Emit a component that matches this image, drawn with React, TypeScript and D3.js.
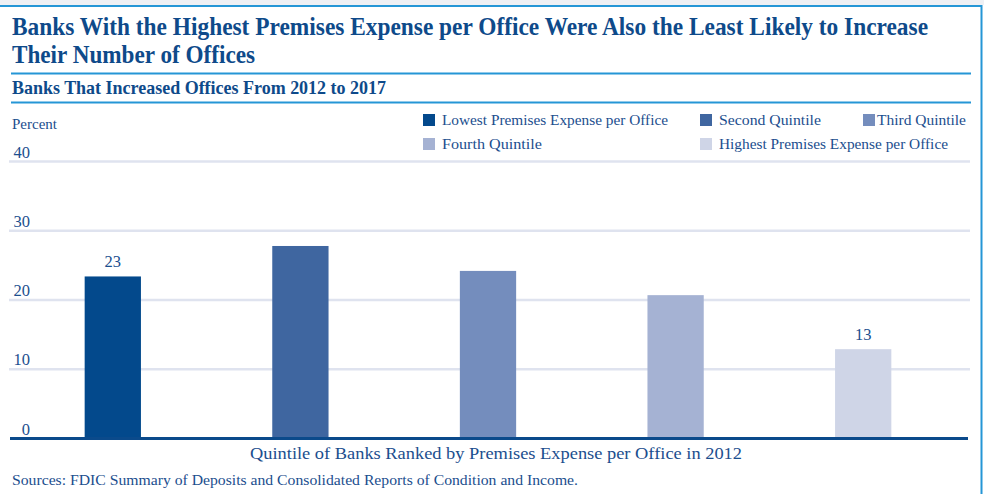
import React from "react";
import * as d3 from "d3";

const categories = [
  "Lowest Premises Expense per Office",
  "Second Quintile",
  "Third Quintile",
  "Fourth Quintile",
  "Highest Premises Expense per Office",
];
const values = [23.4, 27.8, 24.2, 20.7, 12.9];
const barLabels = ["23", "", "", "", "13"];
const colors = ["#03498c", "#3f66a0", "#748dbd", "#a5b2d3", "#cfd5e7"];
const yTicks = [0, 10, 20, 30, 40];
const legendWidths = [226, 102, 89, 100, 229];
const legendPos = [
  [423, 114, 442],
  [700, 114, 719],
  [863, 114, 877],
  [423, 138, 442],
  [700, 138, 719],
];

const W = 984;
const H = 494;
const TXT = "#1b4e8e";
const TITLE = "#0e4a8a";
const RULE = "#2596d6";
const SERIF = '"Liberation Serif", "DejaVu Serif", "Times New Roman", Times, serif';
const fs = { fontFamily: SERIF };
const SX = 0.85;

export default function App() {
  const x = d3
    .scaleBand<string>()
    .domain(categories)
    .range([19, 957])
    .paddingInner(0.7)
    .paddingOuter(0.35);
  const y = d3.scaleLinear().domain([0, 40]).range([438.5, 161.5]);

  return (
    <svg
      width={W}
      height={H}
      viewBox={`0 0 ${W} ${H}`}
      style={{ position: "absolute", left: 0, top: 0, display: "block", background: "#fff", fontFamily: SERIF }}
    >
      <rect x={0} y={0} width={W} height={5} fill="#eef0f4" />
      <line x1={0} x2={982} y1={6} y2={6} stroke={RULE} strokeWidth={2.2} />
      <line x1={981.5} x2={981.5} y1={5} y2={H} stroke={RULE} strokeWidth={2} />

      <g transform={`translate(12,35) scale(${SX},1)`}>
        <text style={fs} x={0} y={0} fontSize={25.5} fontWeight="bold" fill={TITLE} textLength={916 / SX} lengthAdjust="spacingAndGlyphs">
          Banks With the Highest Premises Expense per Office Were Also the Least Likely to Increase
        </text>
      </g>
      <g transform={`translate(12,63) scale(${SX},1)`}>
        <text style={fs} x={0} y={0} fontSize={25.5} fontWeight="bold" fill={TITLE} textLength={243 / SX} lengthAdjust="spacingAndGlyphs">
          Their Number of Offices
        </text>
      </g>
      <line x1={11} x2={971} y1={73.5} y2={73.5} stroke={RULE} strokeWidth={1.8} />
      <g transform={`translate(12,94) scale(${SX},1)`}>
        <text style={fs} x={0} y={0} fontSize={18} fontWeight="bold" fill={TITLE} textLength={374 / SX} lengthAdjust="spacingAndGlyphs">
          Banks That Increased Offices From 2012 to 2017
        </text>
      </g>
      <line x1={11} x2={971} y1={102.5} y2={102.5} stroke={RULE} strokeWidth={1.8} />

      <text style={fs} x={12} y={129} fontSize={15} fill={TXT}>Percent</text>

      {categories.map((c, i) => (
        <g key={"lg" + i}>
          <rect x={legendPos[i][0]} y={legendPos[i][1]} width={12} height={12} fill={colors[i]} />
          <text
            style={fs}
            x={legendPos[i][2]}
            y={legendPos[i][1] + 11}
            fontSize={15}
            fill={TXT}
            textLength={legendWidths[i]}
            lengthAdjust="spacingAndGlyphs"
          >
            {c}
          </text>
        </g>
      ))}

      {yTicks.filter((t) => t > 0).map((t) => (
        <line key={"g" + t} x1={9} x2={970} y1={y(t)} y2={y(t)} stroke="#dfe3ef" strokeWidth={2.4} />
      ))}
      {yTicks.map((t) => (
        <text style={fs} key={"t" + t} x={30} y={y(t) - 4} textAnchor="end" fontSize={16.5} fill={TXT}>
          {t}
        </text>
      ))}

      {categories.map((c, i) => (
        <rect
          key={"b" + i}
          x={x(c)}
          y={y(values[i])}
          width={x.bandwidth()}
          height={y(0) - y(values[i])}
          fill={colors[i]}
        />
      ))}
      {categories.map((c, i) =>
        barLabels[i] ? (
          <text
            style={fs}
            key={"l" + i}
            x={(x(c) as number) + x.bandwidth() / 2}
            y={y(values[i]) - 9.5}
            textAnchor="middle"
            fontSize={16.5}
            fill={TXT}
          >
            {barLabels[i]}
          </text>
        ) : null
      )}

      <line x1={10} x2={968} y1={y(0)} y2={y(0)} stroke="#0b4a8b" strokeWidth={3} />

      <text style={fs} x={250} y={459} fontSize={17} fill={TXT} textLength={492} lengthAdjust="spacingAndGlyphs">
        Quintile of Banks Ranked by Premises Expense per Office in 2012
      </text>
      <text style={fs} x={12} y={485} fontSize={14.5} fill={TXT} textLength={566} lengthAdjust="spacingAndGlyphs">
        Sources: FDIC Summary of Deposits and Consolidated Reports of Condition and Income.
      </text>
    </svg>
  );
}
